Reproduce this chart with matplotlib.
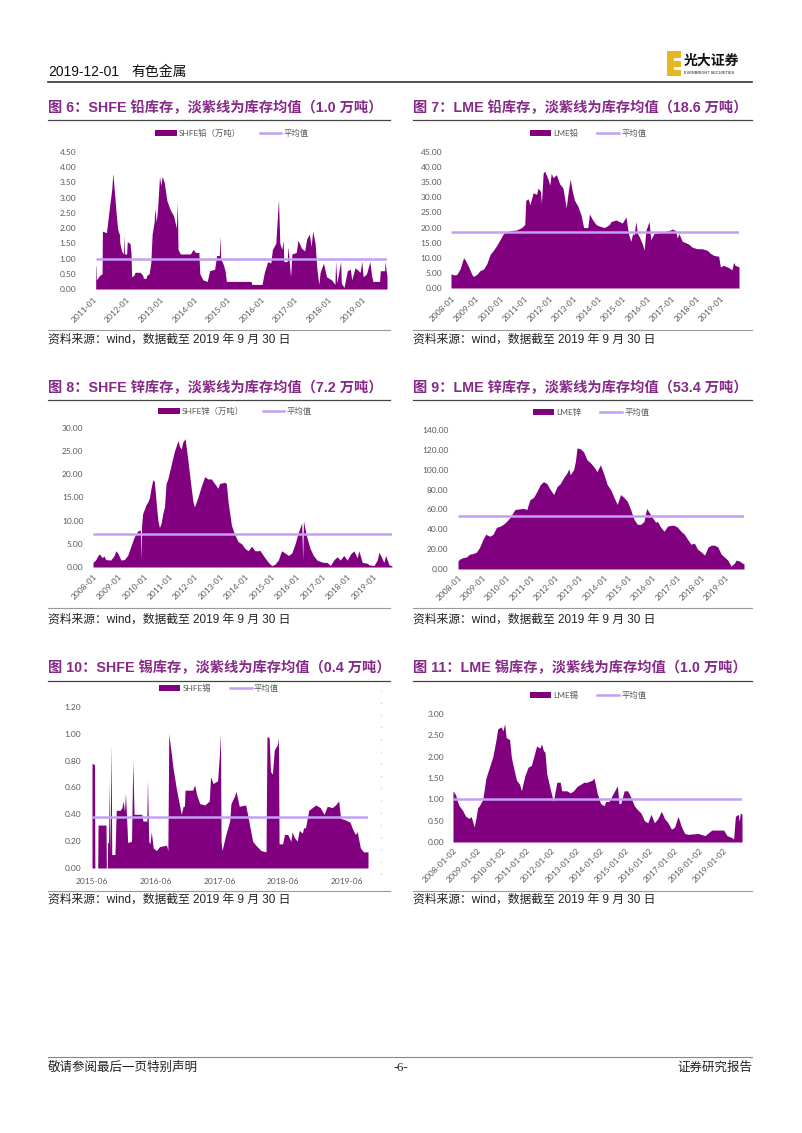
import matplotlib
matplotlib.use('Agg')
import matplotlib.pyplot as plt
from matplotlib.patches import Rectangle, Patch
from matplotlib.lines import Line2D

# ---------------- data (万吨) ----------------
shfe_pb = [(2011.08, 0.75), (2011.09, 0.75), (2011.10, 0.30), (2011.20, 0.45), (2011.27, 0.50), (2011.28, 1.90),
           (2011.40, 1.85), (2011.47, 2.50), (2011.56, 3.30), (2011.59, 3.80), (2011.63, 3.30), (2011.68, 2.60),
           (2011.73, 2.00), (2011.77, 1.80), (2011.78, 1.90), (2011.80, 1.50), (2011.85, 1.25), (2011.91, 1.15),
           (2011.92, 1.80), (2011.94, 1.15), (2012.00, 1.15), (2012.02, 1.55), (2012.10, 1.50), (2012.13, 1.20),
           (2012.15, 0.40), (2012.22, 0.45), (2012.25, 0.55), (2012.40, 0.55), (2012.48, 0.45), (2012.50, 0.35),
           (2012.58, 0.35), (2012.60, 0.45), (2012.67, 0.50), (2012.72, 0.85), (2012.76, 1.80), (2012.82, 2.20),
           (2012.84, 2.65), (2012.88, 2.20), (2012.92, 2.60), (2012.98, 3.70), (2013.02, 3.40), (2013.06, 3.70),
           (2013.12, 3.50), (2013.20, 2.90), (2013.30, 2.60), (2013.40, 2.40), (2013.48, 2.00), (2013.51, 2.85),
           (2013.53, 1.30), (2013.60, 1.15), (2013.90, 1.15), (2013.98, 1.30), (2014.05, 1.20), (2014.15, 1.20),
           (2014.18, 0.50), (2014.27, 0.30), (2014.40, 0.25), (2014.47, 0.60), (2014.62, 0.65), (2014.68, 1.10),
           (2014.76, 1.10), (2014.78, 1.75), (2014.80, 1.00), (2014.88, 0.80), (2014.93, 0.60), (2014.97, 0.25),
           (2015.70, 0.25), (2015.73, 0.15), (2016.03, 0.15), (2016.10, 0.55), (2016.20, 0.90), (2016.29, 0.85),
           (2016.34, 1.30), (2016.44, 1.50), (2016.52, 2.95), (2016.56, 1.50), (2016.62, 1.30), (2016.66, 1.60),
           (2016.68, 0.90), (2016.78, 0.90), (2016.80, 1.40), (2016.84, 0.90), (2016.88, 0.40), (2016.92, 1.15),
           (2017.05, 1.20), (2017.10, 1.60), (2017.20, 1.35), (2017.30, 1.25), (2017.36, 1.65), (2017.44, 1.80),
           (2017.49, 1.40), (2017.54, 1.90), (2017.61, 1.50), (2017.66, 0.70), (2017.72, 0.15), (2017.76, 0.55),
           (2017.86, 0.85), (2017.95, 0.40), (2018.10, 0.30), (2018.20, 0.15), (2018.22, 0.90), (2018.26, 0.20),
           (2018.37, 0.90), (2018.39, 0.20), (2018.47, 0.05), (2018.57, 0.60), (2018.66, 0.65), (2018.70, 0.30),
           (2018.80, 0.70), (2018.95, 0.55), (2019.00, 0.90), (2019.04, 0.40), (2019.14, 0.50), (2019.24, 0.90),
           (2019.29, 0.45), (2019.33, 0.25), (2019.53, 0.25), (2019.55, 0.60), (2019.68, 0.60), (2019.69, 0.90),
           (2019.75, 0.40)]
shfe_pb_avg = 1.0

lme_pb = [(2008.00, 4.7), (2008.13, 4.3), (2008.24, 4.5), (2008.38, 6.5), (2008.51, 10.0), (2008.58, 9.3),
          (2008.72, 7.0), (2008.85, 4.5), (2008.92, 3.8), (2009.05, 4.5), (2009.19, 5.8), (2009.32, 6.2),
          (2009.46, 8.0), (2009.59, 11.0), (2009.73, 12.5), (2009.86, 14.0), (2010.00, 16.0), (2010.14, 18.0),
          (2010.41, 19.0), (2010.68, 19.2), (2010.88, 20.0), (2011.01, 21.0), (2011.05, 29.0), (2011.15, 29.5),
          (2011.22, 27.5), (2011.35, 31.5), (2011.49, 31.0), (2011.55, 33.0), (2011.65, 32.0), (2011.69, 28.0),
          (2011.76, 38.0), (2011.82, 38.7), (2011.96, 36.0), (2012.03, 34.0), (2012.09, 38.0), (2012.16, 36.5),
          (2012.30, 37.5), (2012.43, 34.5), (2012.57, 33.0), (2012.70, 26.5), (2012.77, 31.0), (2012.86, 36.0),
          (2012.95, 32.0), (2013.04, 29.0), (2013.18, 27.0), (2013.31, 24.0), (2013.41, 20.0), (2013.58, 20.0),
          (2013.65, 24.5), (2013.78, 22.5), (2013.92, 21.0), (2014.05, 20.5), (2014.26, 20.0), (2014.46, 21.0),
          (2014.53, 22.0), (2014.73, 22.5), (2014.99, 21.5), (2015.14, 23.5), (2015.20, 20.0), (2015.27, 17.0),
          (2015.34, 15.5), (2015.41, 18.0), (2015.47, 17.5), (2015.54, 22.0), (2015.61, 18.0), (2015.68, 17.0),
          (2015.81, 14.5), (2015.88, 12.5), (2015.95, 19.0), (2016.08, 22.0), (2016.15, 16.0), (2016.28, 18.0),
          (2016.62, 18.5), (2016.89, 19.0), (2017.03, 19.5), (2017.16, 19.0), (2017.23, 16.5), (2017.30, 18.0),
          (2017.43, 15.5), (2017.57, 15.0), (2017.70, 14.5), (2017.84, 13.5), (2018.04, 13.0), (2018.24, 13.0),
          (2018.45, 12.5), (2018.58, 11.5), (2018.72, 10.8), (2018.92, 10.5), (2018.99, 7.0), (2019.12, 7.5),
          (2019.32, 6.8), (2019.46, 6.0), (2019.53, 8.5), (2019.59, 7.5), (2019.75, 7.0)]
lme_pb_avg = 18.6

shfe_zn = [(2008.00, 1.0), (2008.10, 1.5), (2008.23, 2.8), (2008.30, 2.5), (2008.36, 2.0), (2008.43, 2.4),
           (2008.50, 1.6), (2008.70, 1.5), (2008.83, 2.5), (2008.90, 3.5), (2008.97, 3.0), (2009.10, 1.5),
           (2009.23, 1.6), (2009.36, 2.5), (2009.49, 4.5), (2009.62, 6.5), (2009.76, 7.8), (2009.86, 8.0),
           (2009.89, 1.8), (2009.91, 9.0), (2009.95, 11.5), (2010.09, 13.5), (2010.15, 14.0), (2010.22, 15.0),
           (2010.28, 17.0), (2010.35, 18.8), (2010.41, 18.5), (2010.48, 14.0), (2010.55, 10.0), (2010.61, 8.5),
           (2010.68, 9.5), (2010.74, 11.5), (2010.81, 13.0), (2010.87, 18.0), (2010.94, 19.0), (2011.07, 22.0),
           (2011.20, 25.0), (2011.34, 27.3), (2011.40, 26.0), (2011.47, 25.5), (2011.53, 27.0), (2011.62, 27.7),
           (2011.73, 23.0), (2011.86, 17.0), (2011.93, 14.0), (2011.99, 13.0), (2012.12, 15.0), (2012.26, 17.5),
           (2012.39, 19.5), (2012.52, 19.0), (2012.65, 19.0), (2012.78, 18.0), (2012.91, 17.0), (2012.97, 18.0),
           (2013.18, 18.3), (2013.24, 18.0), (2013.31, 14.0), (2013.44, 9.0), (2013.57, 7.0), (2013.70, 5.5),
           (2013.84, 5.0), (2013.97, 4.0), (2014.10, 3.5), (2014.23, 4.5), (2014.36, 3.5), (2014.49, 3.5),
           (2014.56, 3.6), (2014.69, 2.5), (2014.89, 1.0), (2015.02, 0.3), (2015.15, 0.6), (2015.28, 1.5),
           (2015.41, 3.5), (2015.55, 3.0), (2015.68, 2.5), (2015.81, 3.0), (2015.94, 5.0), (2016.07, 7.5),
           (2016.20, 9.5), (2016.24, 1.5), (2016.27, 10.0), (2016.34, 8.0), (2016.40, 6.5), (2016.53, 4.0),
           (2016.66, 2.5), (2016.80, 1.5), (2016.93, 1.2), (2017.06, 1.0), (2017.20, 1.0), (2017.33, 0.3),
           (2017.46, 1.5), (2017.59, 2.2), (2017.72, 1.5), (2017.85, 2.5), (2017.99, 1.5), (2018.12, 2.8),
           (2018.25, 3.5), (2018.38, 2.0), (2018.45, 3.5), (2018.58, 1.0), (2018.78, 0.8), (2018.84, 0.5),
           (2019.04, 0.3), (2019.17, 1.5), (2019.24, 3.2), (2019.30, 2.5), (2019.43, 1.0), (2019.50, 2.5),
           (2019.63, 0.5), (2019.75, 0.2)]
shfe_zn_avg = 7.2

lme_zn = [(2008.00, 8), (2008.07, 10), (2008.21, 11.5), (2008.34, 12), (2008.48, 15), (2008.62, 15.5),
          (2008.76, 17), (2008.89, 22), (2009.03, 30), (2009.14, 35), (2009.31, 33), (2009.44, 35),
          (2009.58, 42), (2009.72, 43), (2009.86, 45), (2010.00, 48), (2010.14, 52), (2010.34, 60),
          (2010.69, 61), (2010.83, 60), (2010.89, 65), (2010.96, 70), (2011.10, 72), (2011.24, 78),
          (2011.38, 85), (2011.51, 88), (2011.65, 86), (2011.79, 80), (2011.93, 75), (2012.07, 83),
          (2012.20, 86), (2012.34, 92), (2012.48, 97), (2012.55, 101), (2012.61, 95), (2012.75, 100),
          (2012.82, 108), (2012.89, 122), (2013.03, 121), (2013.16, 118), (2013.30, 110), (2013.44, 107),
          (2013.58, 103), (2013.71, 98), (2013.85, 105), (2014.00, 95), (2014.13, 85), (2014.27, 80),
          (2014.41, 72), (2014.54, 65), (2014.68, 75), (2014.82, 72), (2014.96, 68), (2015.09, 60),
          (2015.23, 50), (2015.37, 45), (2015.51, 45), (2015.64, 48), (2015.75, 61), (2015.85, 57),
          (2015.98, 52), (2016.12, 47), (2016.19, 48), (2016.33, 42), (2016.47, 38), (2016.60, 43),
          (2016.74, 44), (2016.88, 44), (2017.02, 42), (2017.16, 38), (2017.30, 35), (2017.43, 30),
          (2017.57, 25), (2017.71, 26), (2017.84, 20), (2018.00, 17), (2018.13, 14), (2018.27, 22),
          (2018.40, 24), (2018.54, 24), (2018.68, 22), (2018.81, 15), (2018.95, 12), (2019.08, 9),
          (2019.22, 3), (2019.36, 6), (2019.43, 9), (2019.57, 8), (2019.68, 6), (2019.75, 5)]
lme_zn_avg = 53.4

shfe_sn = [(2015.42, 0.78), (2015.46, 0.77), (2015.465, 0.0), (2015.51, 0.0), (2015.515, 0.32), (2015.64, 0.32),
           (2015.645, 0.0), (2015.66, 0.0), (2015.665, 0.19), (2015.68, 0.19), (2015.69, 0.66), (2015.70, 0.10),
           (2015.72, 0.92), (2015.73, 0.10), (2015.78, 0.10), (2015.80, 0.43), (2015.86, 0.43), (2015.89, 0.45),
           (2015.91, 0.50), (2015.93, 0.42), (2015.945, 0.56), (2015.96, 0.40), (2015.98, 0.19), (2016.04, 0.20),
           (2016.06, 0.80), (2016.08, 0.40), (2016.20, 0.40), (2016.22, 0.35), (2016.28, 0.35), (2016.29, 0.66),
           (2016.31, 0.20), (2016.33, 0.18), (2016.35, 0.27), (2016.38, 0.15), (2016.43, 0.13), (2016.48, 0.16),
           (2016.59, 0.17), (2016.61, 0.13), (2016.625, 1.00), (2016.67, 0.83), (2016.69, 0.75), (2016.74, 0.60),
           (2016.80, 0.45), (2016.82, 0.40), (2016.85, 0.46), (2016.87, 0.46), (2016.88, 0.58), (2017.00, 0.58),
           (2017.03, 0.62), (2017.06, 0.55), (2017.11, 0.48), (2017.19, 0.47), (2017.26, 0.50), (2017.28, 0.68),
           (2017.32, 0.63), (2017.39, 0.65), (2017.42, 0.85), (2017.435, 1.00), (2017.445, 0.20), (2017.46, 0.13),
           (2017.52, 0.25), (2017.58, 0.35), (2017.60, 0.48), (2017.65, 0.53), (2017.68, 0.57), (2017.73, 0.46),
           (2017.83, 0.47), (2017.86, 0.40), (2017.94, 0.20), (2017.99, 0.17), (2018.07, 0.13), (2018.15, 0.12),
           (2018.165, 0.98), (2018.20, 0.97), (2018.22, 0.72), (2018.25, 0.70), (2018.28, 0.88), (2018.33, 0.92),
           (2018.345, 0.97), (2018.355, 0.18), (2018.41, 0.18), (2018.44, 0.25), (2018.49, 0.25), (2018.54, 0.20),
           (2018.56, 0.27), (2018.59, 0.23), (2018.64, 0.20), (2018.67, 0.28), (2018.72, 0.26), (2018.74, 0.30),
           (2018.77, 0.30), (2018.82, 0.43), (2018.93, 0.47), (2019.00, 0.45), (2019.06, 0.40), (2019.11, 0.46),
           (2019.19, 0.45), (2019.24, 0.47), (2019.29, 0.50), (2019.32, 0.37), (2019.39, 0.36), (2019.47, 0.34),
           (2019.50, 0.30), (2019.55, 0.25), (2019.58, 0.27), (2019.63, 0.15), (2019.68, 0.12), (2019.75, 0.12)]
shfe_sn_avg = 0.38

lme_sn = [(2008.00, 1.20), (2008.11, 1.10), (2008.18, 0.95), (2008.25, 0.85), (2008.38, 0.75), (2008.52, 0.60),
          (2008.66, 0.55), (2008.73, 0.60), (2008.79, 0.50), (2008.86, 0.35), (2008.93, 0.55), (2009.00, 0.80),
          (2009.07, 0.85), (2009.21, 1.00), (2009.34, 1.50), (2009.48, 1.75), (2009.62, 2.00), (2009.75, 2.40),
          (2009.82, 2.65), (2009.96, 2.70), (2010.03, 2.60), (2010.10, 2.78), (2010.16, 2.45), (2010.30, 2.40),
          (2010.37, 2.00), (2010.44, 1.80), (2010.58, 1.45), (2010.71, 1.35), (2010.78, 1.20), (2010.92, 1.55),
          (2011.05, 1.75), (2011.19, 1.80), (2011.33, 2.10), (2011.40, 2.25), (2011.53, 2.20), (2011.60, 2.30),
          (2011.67, 2.15), (2011.74, 2.10), (2011.81, 1.60), (2011.95, 1.25), (2012.08, 0.95), (2012.22, 1.40),
          (2012.36, 1.40), (2012.42, 1.20), (2012.63, 1.20), (2012.77, 1.15), (2012.90, 1.20), (2013.04, 1.30),
          (2013.18, 1.35), (2013.32, 1.40), (2013.45, 1.40), (2013.66, 1.45), (2013.73, 1.50), (2013.79, 1.35),
          (2013.86, 1.15), (2014.00, 0.90), (2014.14, 0.85), (2014.21, 0.95), (2014.34, 0.95), (2014.48, 1.10),
          (2014.62, 1.25), (2014.68, 1.32), (2014.75, 0.90), (2014.82, 0.90), (2014.96, 1.20), (2015.10, 1.20),
          (2015.23, 1.05), (2015.37, 0.85), (2015.51, 0.75), (2015.64, 0.68), (2015.78, 0.50), (2015.92, 0.45),
          (2016.05, 0.65), (2016.19, 0.45), (2016.33, 0.55), (2016.47, 0.72), (2016.60, 0.55), (2016.74, 0.45),
          (2016.88, 0.30), (2017.01, 0.35), (2017.15, 0.60), (2017.29, 0.35), (2017.42, 0.20), (2017.56, 0.18),
          (2017.97, 0.20), (2018.25, 0.15), (2018.52, 0.28), (2018.79, 0.28), (2019.00, 0.28), (2019.14, 0.15),
          (2019.34, 0.10), (2019.41, 0.07), (2019.48, 0.60), (2019.60, 0.65), (2019.64, 0.48), (2019.68, 0.68),
          (2019.75, 0.65)]
lme_sn_avg = 1.0

year_ticks_2011 = [2011, 2012, 2013, 2014, 2015, 2016, 2017, 2018, 2019]
year_ticks_2008 = [2008, 2009, 2010, 2011, 2012, 2013, 2014, 2015, 2016, 2017, 2018, 2019]
mid_ticks_2015 = [2015.42, 2016.42, 2017.42, 2018.42, 2019.42]
labels_2011 = ['%d-01' % y for y in year_ticks_2011]
labels_2008 = ['%d-01' % y for y in year_ticks_2008]
labels_2008_day = ['%d-01-02' % y for y in year_ticks_2008]
labels_2015 = ['2015-06', '2016-06', '2017-06', '2018-06', '2019-06']

titles = ['图 6：SHFE 铅库存，淡紫线为库存均值（1.0 万吨）',
          '图 7：LME 铅库存，淡紫线为库存均值（18.6 万吨）',
          '图 8：SHFE 锌库存，淡紫线为库存均值（7.2 万吨）',
          '图 9：LME 锌库存，淡紫线为库存均值（53.4 万吨）',
          '图 10：SHFE 锡库存，淡紫线为库存均值（0.4 万吨）',
          '图 11：LME 锡库存，淡紫线为库存均值（1.0 万吨）']
legend_names = ['SHFE铅（万吨）', 'LME铅', 'SHFE锌（万吨）', 'LME锌', 'SHFE锡', 'LME锡']
source_text = '资料来源：wind，数据截至 2019 年 9 月 30 日'

# ---------------- styling / layout ----------------
W, H = 802, 1133
fig = plt.figure(figsize=(W / 100, H / 100), dpi=100)
fig.patch.set_facecolor('white')

def fx(x):
    return x / W

def fy(y):
    return 1 - y / H

PURPLE = '#800080'
LAVENDER = '#C4A0F4'
TITLE_C = '#862A88'
TICK_C = '#595959'
LATIN_CJK = ['Liberation Sans', 'Noto Sans CJK SC']
TICK_FONT = ['Lato', 'Noto Sans CJK SC']

# header
fig.text(fx(48), fy(72), '2019-12-01', family=LATIN_CJK, fontsize=10, color='#111111', va='center', ha='left')
fig.text(fx(131), fy(72), '有色金属', family=LATIN_CJK, fontsize=10, color='#111111', va='center', ha='left')
fig.add_artist(Line2D([fx(48), fx(752)], [fy(82), fy(82)], color='#333333', lw=1.2))
# logo
fig.add_artist(Rectangle((fx(667), fy(76)), fx(14), (fy(51) - fy(76)), color='#E6B71E', lw=0))
fig.add_artist(Rectangle((fx(674), fy(61)), fx(7), (fy(58) - fy(61)), color='white', lw=0))
fig.add_artist(Rectangle((fx(674), fy(69.5)), fx(7), (fy(66.5) - fy(69.5)), color='white', lw=0))
fig.text(fx(684), fy(61), '光大证券', family=LATIN_CJK, fontsize=10, weight='bold', color='#111111', va='center', ha='left')
fig.text(fx(684), fy(73), 'EVERBRIGHT SECURITIES', family=LATIN_CJK, fontsize=2.8, color='#111111', va='center', ha='left')

# footer
fig.add_artist(Line2D([fx(48), fx(752)], [fy(1057), fy(1057)], color='#888888', lw=0.8))
fig.text(fx(48), fy(1068), '敬请参阅最后一页特别声明', family=LATIN_CJK, fontsize=9, color='#222222', va='center', ha='left')
fig.text(fx(401), fy(1068), '-6-', family=['Liberation Serif'], fontsize=9, color='#222222', va='center', ha='center')
fig.text(fx(752), fy(1068), '证券研究报告', family=LATIN_CJK, fontsize=9, color='#222222', va='center', ha='right')

panels = [
    dict(series=shfe_pb, avg=shfe_pb_avg, box=(93, 152, 387, 289), yticks=[0, 0.5, 1, 1.5, 2, 2.5, 3, 3.5, 4, 4.5],
         xticks=year_ticks_2011, xlabels=labels_2011, rot=True, ypad=12, xpad=5,
         col=(48, 390), rowy=(108, 120, 133, 330, 340), legx=232),
    dict(series=lme_pb, avg=lme_pb_avg, box=(451, 152, 739, 288), yticks=list(range(0, 50, 5)),
         xticks=year_ticks_2008, xlabels=labels_2008, rot=True, ypad=6.5, xpad=5,
         col=(413, 752), rowy=(108, 120, 133, 330, 340), legx=588),
    dict(series=shfe_zn, avg=shfe_zn_avg, box=(93, 428, 392, 567), yticks=list(range(0, 35, 5)),
         xticks=year_ticks_2008, xlabels=labels_2008, rot=True, ypad=7, xpad=4,
         col=(48, 390), rowy=(388, 400, 411, 608, 620), legx=235),
    dict(series=lme_zn, avg=lme_zn_avg, box=(458, 430, 744, 569), yticks=list(range(0, 160, 20)),
         xticks=year_ticks_2008, xlabels=labels_2008, rot=True, ypad=7, xpad=3.5,
         col=(413, 752), rowy=(388, 400, 412, 608, 620), legx=591),
    dict(series=shfe_sn, avg=shfe_sn_avg, box=(92, 707, 368, 868), yticks=[0, 0.2, 0.4, 0.6, 0.8, 1.0, 1.2],
         xticks=mid_ticks_2015, xlabels=labels_2015, rot=False, ypad=8, xpad=7,
         col=(48, 390), rowy=(668, 681, 688, 891, 900), legx=219),
    dict(series=lme_sn, avg=lme_sn_avg, box=(453, 714, 742, 842), yticks=[0, 0.5, 1, 1.5, 2, 2.5, 3],
         xticks=year_ticks_2008, xlabels=labels_2008_day, rot=True, ypad=6.5, xpad=3.5,
         col=(413, 752), rowy=(668, 681, 695, 891, 900), legx=588),
]

for i, p in enumerate(panels):
    t, v = zip(*p['series'])
    l, top, r, bot = p['box']
    ax = fig.add_axes([fx(l), fy(bot), fx(r) - fx(l), fy(top) - fy(bot)])
    ax.fill_between(t, v, 0, color=PURPLE, lw=0)
    ax.hlines(p['avg'], t[0], t[-1], color=LAVENDER, lw=1.8)
    ax.set_xlim(min(p['xticks'][0], t[0]), t[-1])
    ax.set_ylim(p['yticks'][0], p['yticks'][-1])
    ax.set_yticks(p['yticks'])
    ax.set_yticklabels(['%.2f' % y for y in p['yticks']], family=TICK_FONT)
    ax.set_xticks(p['xticks'])
    if p['rot']:
        ax.set_xticklabels(p['xlabels'], rotation=45, ha='right', rotation_mode='anchor', family=TICK_FONT)
    else:
        ax.set_xticklabels(p['xlabels'], family=TICK_FONT)
    ax.tick_params(axis='both', length=0, labelsize=6, labelcolor=TICK_C)
    ax.tick_params(axis='y', pad=p['ypad'])
    ax.tick_params(axis='x', pad=p['xpad'])
    for s in ax.spines.values():
        s.set_visible(False)
    ax.patch.set_alpha(0)

    handles = [Patch(facecolor=PURPLE, edgecolor='none'), Line2D([], [], color=LAVENDER, lw=1.8)]
    ty, ly, gy, sly, sty = p['rowy']
    ax.legend(handles, [legend_names[i], '平均值'], loc='center', bbox_to_anchor=(fx(p['legx']), fy(gy)),
              bbox_transform=fig.transFigure, ncol=2, frameon=False, handlelength=2.6, handleheight=0.7,
              columnspacing=2.2, handletextpad=0.3, borderpad=0,
              prop=dict(family=TICK_FONT, size=6), labelcolor=TICK_C)

    c0, c1 = p['col']
    fig.text(fx(c0), fy(ty), titles[i], family=LATIN_CJK, fontsize=10.3, weight='bold', color=TITLE_C,
             va='center', ha='left')
    fig.add_artist(Line2D([fx(c0), fx(c1)], [fy(ly), fy(ly)], color='#444444', lw=0.9))
    fig.add_artist(Line2D([fx(c0), fx(c1)], [fy(sly), fy(sly)], color='#999999', lw=0.8))
    fig.text(fx(c0), fy(sty), source_text, family=LATIN_CJK, fontsize=8.5, color='#222222', va='center', ha='left')

# faint dotted frame edge next to the SHFE tin chart
fig.add_artist(Line2D([fx(381), fx(381)], [fy(690), fy(885)], color='#C8C8C8', lw=0.8, ls=(0, (1, 10))))

fig.savefig('out.png', dpi=100)
